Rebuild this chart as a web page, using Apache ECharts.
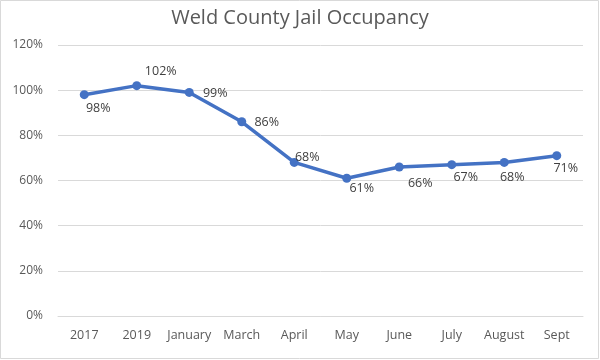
<!DOCTYPE html>
<html><head><meta charset="utf-8">
<script src="https://cdn.jsdelivr.net/npm/echarts@6/dist/echarts.min.js"></script>
<style>html,body{margin:0;padding:0;background:#fff}#c{width:600px;height:360px}</style>
</head><body><div id="c"></div>
<script>
var categories = ['2017','2019','January','March','April','May','June','July','August','Sept'];
var occupancy = [98,102,99,86,68,61,66,67,68,71];
var yTicks = [0,20,40,60,80,100,120];
var labelOffsets = [[14,14],[24,-14],[26,1],[25,1],[13,-5],[15,10],[21,16],[14,13],[8,15],[9,13]];

var chart = echarts.init(document.getElementById('c'));
var font = '"Open Sans", "Liberation Sans", sans-serif';
chart.setOption({
  animation:false,
  backgroundColor:'#fff',
  graphic:[{type:'rect',shape:{x:0.5,y:0.5,width:598,height:358},style:{fill:'none',stroke:'#d9d9d9',lineWidth:1},silent:true}],
  title:{text:'Weld County Jail Occupancy',left:'center',top:3,
    textStyle:{fontFamily:font,fontSize:20,fontWeight:'normal',color:'#595959'}},
  grid:{left:58,right:17,top:45,bottom:44},
  xAxis:{type:'category',data:categories,boundaryGap:true,
    axisLine:{show:true,lineStyle:{color:'#d9d9d9'}},axisTick:{show:false},
    axisLabel:{fontFamily:font,fontSize:12.5,color:'#595959',margin:13,interval:0}},
  yAxis:{type:'value',min:yTicks[0],max:yTicks[yTicks.length-1],interval:20,
    axisLine:{show:false},axisTick:{show:false},
    splitLine:{lineStyle:{color:'#d9d9d9',width:1}},
    axisLabel:{fontFamily:font,fontSize:12,color:'#595959',margin:15,formatter:'{value}%'}},
  series:[{type:'line',
    data:occupancy.map(function(v,i){return {value:v,label:{offset:labelOffsets[i]}};}),
    symbol:'circle',symbolSize:9,
    lineStyle:{color:'#4472C4',width:3.5},
    itemStyle:{color:'#4472C4'},
    label:{show:true,position:'inside',align:'center',verticalAlign:'middle',
      formatter:'{c}%',fontFamily:font,fontSize:12.5,color:'#404040'}
  }]
});
</script></body></html>
